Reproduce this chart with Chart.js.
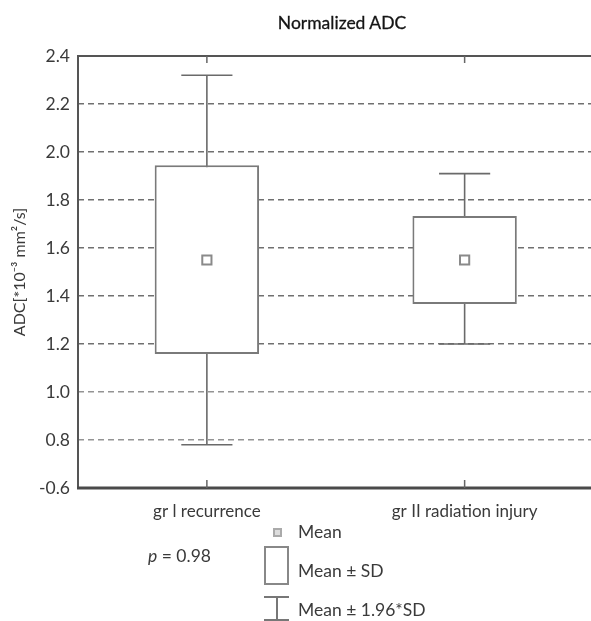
<!DOCTYPE html>
<html><head><meta charset="utf-8">
<script src="https://cdn.jsdelivr.net/npm/chart.js@4"></script>
<style>
html,body{margin:0;padding:0;overflow:hidden;background:#fff;width:591px;height:621px;}
#wrap{position:absolute;left:0;top:0;width:602px;height:621px;}
.t{position:absolute;font-family:Lato,sans-serif;color:#3a3a3a;white-space:nowrap;font-size:17.5px;line-height:20px;}
.ico{position:absolute;box-sizing:border-box;}
</style></head><body>
<div id="wrap"><canvas id="c"></canvas></div>
<div class="t" style="left:0;width:684px;top:13px;text-align:center;font-size:17.5px;color:#151515;-webkit-text-stroke:0.3px #151515">Normalized ADC</div>
<div class="ico" style="left:273px;top:528px;width:9px;height:9px;border:2px solid #aaa;background:#ddd"></div>
<div class="t" style="left:298px;top:522px">Mean</div>
<div class="t" style="left:148px;top:546px"><i>p</i> = 0.98</div>
<div class="ico" style="left:264px;top:546px;width:25px;height:39px;border:2px solid #888;background:#fff"></div>
<div class="t" style="left:298px;top:561px">Mean ± SD</div>
<div class="ico" style="left:276px;top:597px;width:1.5px;height:23px;background:#777"></div>
<div class="ico" style="left:264px;top:596px;width:25px;height:2px;background:#777"></div>
<div class="ico" style="left:264px;top:619px;width:25px;height:2px;background:#777"></div>
<div class="t" style="left:298px;top:600px">Mean ± 1.96*SD</div>
<script>
const categories = ['gr l recurrence', 'gr II radiation injury'];
const means = [1.55, 1.55];
const boxLow = [1.158, 1.367];
const boxHigh = [1.945, 1.733];
const whiskerLow = [0.78, 1.20];
const whiskerHigh = [2.32, 1.91];
const yTickLabels = ['-0.6', '0.8', '1.0', '1.2', '1.4', '1.6', '1.8', '2.0', '2.2', '2.4'];

const whiskerPlugin = {
  id: 'whiskers',
  beforeDatasetsDraw(chart) {
    const ctx = chart.ctx, xs = chart.scales.x, ys = chart.scales.y;
    const meta = chart.getDatasetMeta(0);
    ctx.save();
    ctx.strokeStyle = '#6a6a6a';
    ctx.lineWidth = 1.6;
    categories.forEach((c, i) => {
      const x = xs.getPixelForValue(i);
      const half = meta.data[i].width * 0.245;
      const yl = ys.getPixelForValue(whiskerLow[i]);
      const yh = ys.getPixelForValue(whiskerHigh[i]);
      ctx.beginPath();
      ctx.moveTo(x, yl); ctx.lineTo(x, yh);
      ctx.moveTo(x - half, yl); ctx.lineTo(x + half, yl);
      ctx.moveTo(x - half, yh); ctx.lineTo(x + half, yh);
      ctx.stroke();
    });
    ctx.restore();
  },
  afterDraw(chart) {
    const ctx = chart.ctx, a = chart.chartArea, xs = chart.scales.x;
    ctx.save();
    ctx.strokeStyle = '#555';
    ctx.lineWidth = 2;
    ctx.beginPath();
    ctx.moveTo(a.left, a.top); ctx.lineTo(a.right, a.top);
    ctx.moveTo(a.left, a.top - 1); ctx.lineTo(a.left, a.bottom);
    ctx.stroke();
    ctx.lineWidth = 3;
    ctx.strokeStyle = '#4a4a4a';
    ctx.beginPath();
    ctx.moveTo(a.left - 1, a.bottom); ctx.lineTo(a.right, a.bottom);
    ctx.stroke();
    ctx.lineWidth = 1.5;
    ctx.strokeStyle = '#666';
    categories.forEach((c, i) => {
      const x = xs.getPixelForValue(i);
      ctx.beginPath();
      ctx.moveTo(x, a.top); ctx.lineTo(x, a.top + 7);
      ctx.moveTo(x, a.bottom); ctx.lineTo(x, a.bottom - 8);
      ctx.stroke();
    });
    ctx.restore();
  }
};

new Chart(document.getElementById('c'), {
  type: 'bar',
  data: {
    labels: categories,
    datasets: [
      {
        label: 'Mean ± SD',
        data: boxLow.map((v, i) => [v, boxHigh[i]]),
        backgroundColor: '#ffffff',
        borderColor: '#7a7a7a',
        borderWidth: 2,
        borderSkipped: false,
        categoryPercentage: 1,
        barPercentage: 0.405,
        order: 2
      },
      {
        type: 'line',
        label: 'Mean',
        data: means,
        showLine: false,
        pointStyle: 'rect',
        pointRadius: 6.5,
        pointBorderWidth: 2,
        pointBorderColor: '#8a8a8a',
        pointBackgroundColor: '#ffffff',
        order: 1
      }
    ]
  },
  options: {
    responsive: true,
    maintainAspectRatio: false,
    animation: false,
    events: [],
    layout: { padding: { top: 56, left: 0, right: 0, bottom: 0 } },
    plugins: { legend: { display: false }, tooltip: { enabled: false } },
    scales: {
      x: {
        afterFit: s => { s.height = 133; },
        grid: { display: false },
        border: { display: false },
        ticks: { padding: 5, color: '#3a3a3a', font: { family: 'Lato', size: 17 } }
      },
      y: {
        min: 0.6, max: 2.4,
        afterFit: s => { s.width = 78; },
        border: { display: false, dash: [6, 4] },
        grid: {
          drawTicks: false,
          lineWidth: 1.5,
          color: c => {
            const v = c.tick ? c.tick.value : 0;
            if (v < 0.65 || v > 2.35) return 'rgba(0,0,0,0)';
            if (v < 1.05) return '#949494';
            return '#707070';
          }
        },
        ticks: {
          stepSize: 0.2,
          padding: 8,
          color: '#3a3a3a',
          font: { family: 'Lato', size: 17.5 },
          callback: (v, i) => yTickLabels[i]
        },
        title: {
          display: true,
          text: 'ADC[*10⁻³ mm²/s]',
          color: '#3a3a3a',
          font: { family: 'Lato', size: 16 },
          padding: { top: 10, bottom: 0 }
        }
      }
    }
  },
  plugins: [whiskerPlugin]
});
</script>
</body></html>
